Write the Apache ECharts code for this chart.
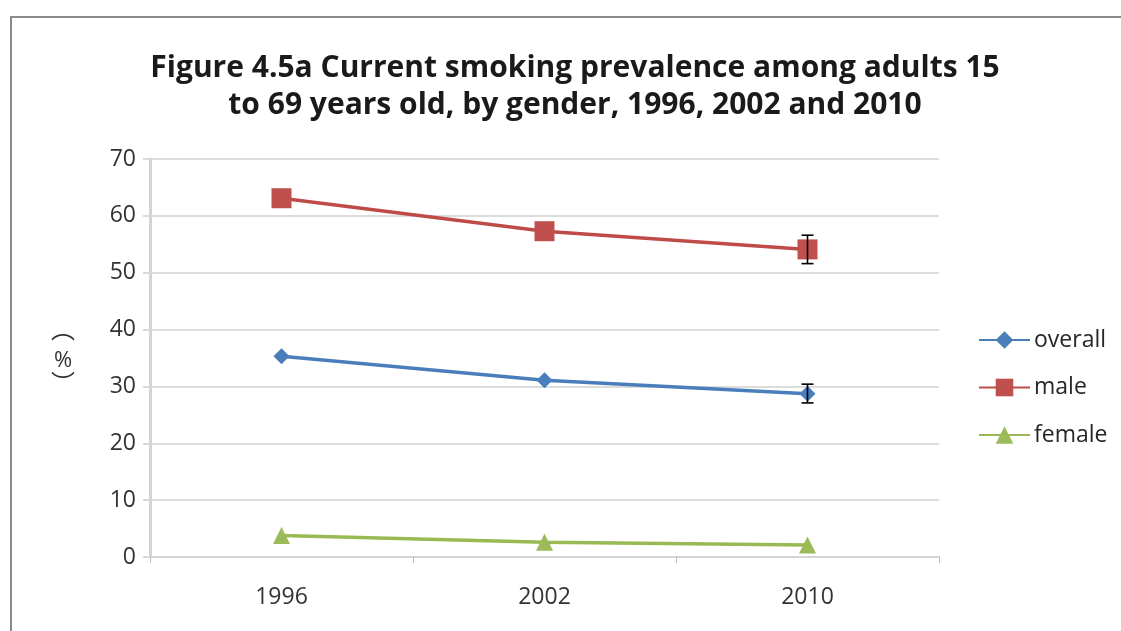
<!DOCTYPE html>
<html>
<head>
<meta charset="utf-8">
<script src="https://cdn.jsdelivr.net/npm/echarts@6/dist/echarts.min.js"></script>
<style>
  html, body { margin: 0; padding: 0; background: #ffffff; }
  #chart { width: 1121px; height: 631px; }
</style>
</head>
<body>
<div id="chart"></div>
<script>
// Survey years and prevalence (%) by group
const years = ['1996', '2002', '2010'];
const overall = [35.3, 31.1, 28.7];
const male = [63.1, 57.3, 54.1];
const female = [3.8, 2.6, 2.1];

// 95% confidence limits, reported for the 2010 survey only
const overallLow = [null, null, 27.1];
const overallHigh = [null, null, 30.4];
const maleLow = [null, null, 51.6];
const maleHigh = [null, null, 56.6];

const yTicks = [0, 10, 20, 30, 40, 50, 60, 70];

const FONT = '"Open Sans", Lato, sans-serif';
const CJK = '"Noto Sans CJK SC", sans-serif';

function errorBarSeries(low, high) {
  const data = [];
  low.forEach((v, i) => { if (v != null) data.push([i, v, high[i]]); });
  return {
    type: 'custom',
    silent: true,
    z: 5,
    data: data,
    encode: { x: 0, y: [1, 2] },
    renderItem: function (params, api) {
      const lo = api.coord([api.value(0), api.value(1)]);
      const hi = api.coord([api.value(0), api.value(2)]);
      const w = 6;
      const style = { stroke: '#000000', lineWidth: 1.6 };
      return {
        type: 'group',
        children: [
          { type: 'line', shape: { x1: lo[0], y1: lo[1], x2: hi[0], y2: hi[1] }, style: style },
          { type: 'line', shape: { x1: lo[0] - w, y1: lo[1], x2: lo[0] + w, y2: lo[1] }, style: style },
          { type: 'line', shape: { x1: hi[0] - w, y1: hi[1], x2: hi[0] + w, y2: hi[1] }, style: style }
        ]
      };
    }
  };
}

// Vertical "(%)" unit label, set in vertical presentation forms
function unitText(str, x, y, size, family) {
  return {
    type: 'text',
    x: x,
    y: y,
    silent: true,
    style: {
      text: str,
      fill: '#333333',
      font: size + 'px ' + family,
      align: 'center',
      verticalAlign: 'middle'
    }
  };
}

const chart = echarts.init(document.getElementById('chart'), null, { renderer: 'canvas' });

chart.setOption({
  animation: false,
  backgroundColor: '#ffffff',
  title: {
    text: 'Figure 4.5a Current smoking prevalence among adults 15\nto 69 years old, by gender, 1996, 2002 and 2010',
    left: 570,
    textAlign: 'center',
    top: 45,
    textStyle: {
      fontFamily: FONT,
      fontWeight: 'bold',
      fontSize: 30,
      lineHeight: 37,
      color: '#1a1a1a'
    }
  },
  graphic: [
    {
      type: 'rect',
      shape: { x: 11, y: 17, width: 1300, height: 800 },
      style: { fill: 'none', stroke: '#8a8a8a', lineWidth: 2 },
      silent: true,
      z: -1
    },
    unitText('︵', 63, 329, 24, CJK),
    unitText('%', 63, 361, 22, FONT),
    unitText('︶', 63, 383, 24, CJK)
  ],
  legend: {
    orient: 'vertical',
    left: 973,
    top: 323,
    itemGap: 23.5,
    itemWidth: 51,
    itemHeight: 22,
    textStyle: { fontFamily: FONT, fontSize: 23, lineHeight: 24, color: '#262626', padding: [0, 0, 0, -1] },
    data: ['overall', 'male', 'female']
  },
  grid: { left: 150, right: 182, top: 159, bottom: 74 },
  xAxis: {
    type: 'category',
    data: years,
    boundaryGap: true,
    axisLine: { lineStyle: { color: '#d4d4d4', width: 2 } },
    axisTick: { show: true, length: 6, lineStyle: { color: '#bdbdbd' } },
    axisLabel: { fontFamily: FONT, fontSize: 23, color: '#333333', margin: 29 }
  },
  yAxis: {
    type: 'value',
    min: yTicks[0],
    max: yTicks[yTicks.length - 1],
    interval: 10,
    axisLine: { show: true, lineStyle: { color: '#d4d4d4', width: 3 } },
    axisTick: { show: true, length: 7, lineStyle: { color: '#d9d9d9', width: 2 } },
    splitLine: { lineStyle: { color: '#dcdcdc', width: 2 } },
    axisLabel: { fontFamily: FONT, fontSize: 23, color: '#333333', margin: 14 }
  },
  series: [
    {
      name: 'overall',
      type: 'line',
      data: overall,
      symbol: 'diamond',
      symbolSize: 16,
      lineStyle: { color: '#4a7ebb', width: 3.5 },
      itemStyle: { color: '#4a7ebb' }
    },
    {
      name: 'male',
      type: 'line',
      data: male,
      symbol: 'rect',
      symbolSize: 20,
      lineStyle: { color: '#be4b48', width: 3.5 },
      itemStyle: { color: '#c0504d' }
    },
    {
      name: 'female',
      type: 'line',
      data: female,
      symbol: 'triangle',
      symbolSize: 17,
      lineStyle: { color: '#98b954', width: 3.5 },
      itemStyle: { color: '#9bbb59' }
    },
    errorBarSeries(overallLow, overallHigh),
    errorBarSeries(maleLow, maleHigh)
  ]
});
</script>
</body>
</html>
